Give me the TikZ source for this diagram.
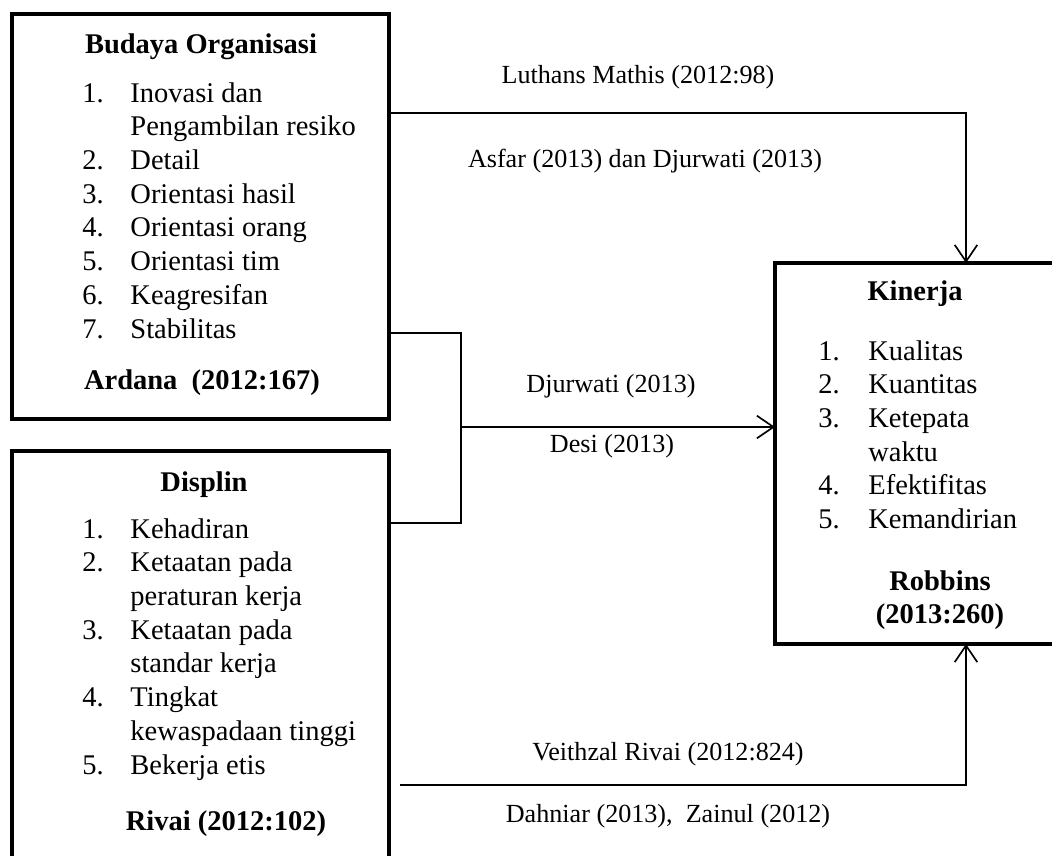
\documentclass[tikz,border=0pt]{standalone}
\usepackage{fontspec}
\setmainfont{Liberation Serif}
\usetikzlibrary{arrows.meta,positioning}

\newcommand{\unitpx}{0.0148cm}

\tikzset{
  box/.style={draw,line width=1.7pt,inner sep=0pt,outer sep=0pt},
  link/.style={line width=0.7pt},
  tip/.style={-{Straight Barb[length=7pt,width=9.5pt]}},
  txt/.style={inner sep=0pt,font=\fontsize{12}{14.2}\selectfont},
  head/.style={txt,font=\fontsize{12}{14.2}\selectfont\bfseries},
  lbl/.style={inner sep=0pt,font=\fontsize{11}{13}\selectfont},
}

\begin{document}
\begin{tikzpicture}[x=\unitpx,y=-\unitpx]
  \clip (0,0) rectangle (1052,855);

  % the three boxes
  \node[box,minimum width=377*\unitpx,minimum height=405*\unitpx] (bud) at (200.5,216.5) {};
  \node[box,minimum width=377*\unitpx,minimum height=449*\unitpx] (dis) at (200.5,675.5) {};
  \node[box,minimum width=325*\unitpx,minimum height=381*\unitpx] (kin) at (937.5,453.5) {};

  % budaya organisasi
  \node[head,anchor=base] (budhead) at (201,53) {Budaya Organisasi};
  \node[txt,anchor=base west] (budlist) at (82,102) {\begin{tabular}[t]{@{}p{20.2pt}@{}l@{}}
    1. & Inovasi dan\\
       & Pengambilan resiko\\
    2. & Detail\\
    3. & Orientasi hasil\\
    4. & Orientasi orang\\
    5. & Orientasi tim\\
    6. & Keagresifan\\
    7. & Stabilitas
  \end{tabular}};
  \node[head,anchor=base] (budsrc) at (202,389) {Ardana\ \ (2012:167)};

  % displin
  \node[head,anchor=base] (dishead) at (204,491) {Displin};
  \node[txt,anchor=base west] (dislist) at (82,538) {\begin{tabular}[t]{@{}p{20.2pt}@{}l@{}}
    1. & Kehadiran\\
    2. & Ketaatan pada\\
       & peraturan kerja\\
    3. & Ketaatan pada\\
       & standar kerja\\
    4. & Tingkat\\
       & kewaspadaan tinggi\\
    5. & Bekerja etis
  \end{tabular}};
  \node[head,anchor=base] (dissrc) at (226,830) {Rivai (2012:102)};

  % kinerja
  \node[head,anchor=base] (kinhead) at (915,300) {Kinerja};
  \node[txt,anchor=base west] (kinlist) at (818,360) {\begin{tabular}[t]{@{}p{21pt}@{}l@{}}
    1. & Kualitas\\
    2. & Kuantitas\\
    3. & Ketepata\\
       & waktu\\
    4. & Efektifitas\\
    5. & Kemandirian
  \end{tabular}};
  \node[head,anchor=base] (kinsrc) at (940,590) {\begin{tabular}[t]{@{}c@{}}
    Robbins\\ (2013:260)
  \end{tabular}};

  % connectors
  \coordinate (tr) at (966,113);
  \draw[link,tip] (bud.east |- tr) -| (kin.north -| tr);

  \coordinate (jt) at (461,333);
  \coordinate (jb) at (461,523);
  \coordinate (jm) at (461,427);
  \draw[link] (bud.east |- jt) -- (jt) -- (jb) -- (dis.east |- jb);
  \draw[link,tip] (jm) -- (kin.west |- jm);

  \coordinate (br) at (966,785);
  \coordinate (bl) at (400,785);
  \draw[link,tip] (bl) -| (kin.south -| br);

  % labels
  \node[lbl,anchor=base] (l1) at (638,83) {Luthans Mathis (2012:98)};
  \node[lbl,anchor=base] (l2) at (645,167) {Asfar (2013) dan Djurwati (2013)};
  \node[lbl,anchor=base] (l3) at (611,392) {Djurwati (2013)};
  \node[lbl,anchor=base] (l4) at (612,452) {Desi (2013)};
  \node[lbl,anchor=base] (l5) at (668,760) {Veithzal Rivai (2012:824)};
  \node[lbl,anchor=base] (l6) at (668,822) {Dahniar (2013),\ \ Zainul (2012)};
\end{tikzpicture}
\end{document}
